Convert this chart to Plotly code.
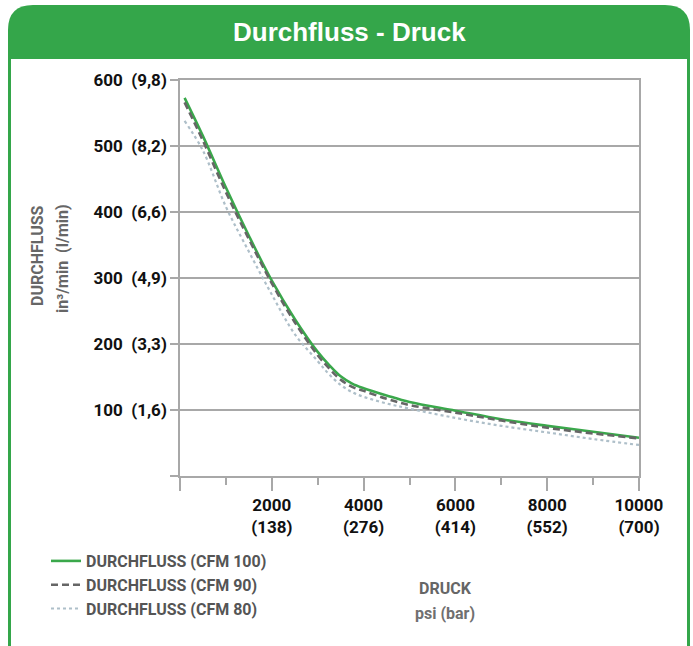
import plotly.graph_objects as go

# ---- data ----
psi = [100, 500, 1000, 1500, 2000, 2500, 3000, 3250, 3500, 3750, 4000, 4500, 5000, 6000, 7000, 8000, 9000, 10000]
cfm100 = [573, 515, 437, 364, 296, 238, 188, 168, 151, 140, 133, 122, 112, 99, 86, 76, 67, 58]
cfm90 = [566, 508, 430, 359, 292, 233, 183, 163, 146, 135, 129, 117, 107.5, 96, 84, 73, 64.5, 57]
cfm80 = [538, 493, 408, 340, 275, 215, 174, 154, 138, 127, 120, 110, 102, 88, 76, 66, 56, 47]

x_tickvals = [0, 2000, 4000, 6000, 8000, 10000]
x_ticktext = ["", "2000<br>(138)", "4000<br>(276)", "6000<br>(414)", "8000<br>(552)", "10000<br>(700)"]
y_tickvals = [0, 100, 200, 300, 400, 500, 600]
y_ticktext = ["", "100\u00a0\u00a0(1,6)", "200\u00a0\u00a0(3,3)", "300\u00a0\u00a0(4,9)",
              "400\u00a0\u00a0(6,6)", "500\u00a0\u00a0(8,2)", "600\u00a0\u00a0(9,8)"]
names = ["DURCHFLUSS (CFM 100)", "DURCHFLUSS (CFM 90)", "DURCHFLUSS (CFM 80)"]

W, H = 693, 646
ML, MR, MT, MB = 180, 54, 80, 170
PW, PH = W - ML - MR, H - MT - MB

def px(x):
    return (x - ML) / PW

def py(y):
    return (H - MB - y) / PH

FONT = "Roboto, Liberation Sans Narrow, DejaVu Sans Condensed, sans-serif"
GREEN = "#34a64a"
GRID = "#a8a8a8"

fig = go.Figure()
fig.add_trace(go.Scatter(x=psi, y=cfm100, name=names[0], mode="lines", legendgroup="a",
                         line=dict(color="#3aa84b", width=2.6, shape="spline", smoothing=1.0)))
fig.add_trace(go.Scatter(x=psi, y=cfm90, name=names[1], mode="lines", legendgroup="b",
                         line=dict(color="#666666", width=2.6, dash="7px,4px", shape="spline", smoothing=1.0)))
fig.add_trace(go.Scatter(x=psi, y=cfm80, name=names[2], mode="lines", legendgroup="c",
                         line=dict(color="#aebfc9", width=2.2, dash="dot", shape="spline", smoothing=1.0)))

# card shapes
r = 25
L, R, T, B = 8, 690, 5, 59
path = (f"M {px(L)},{py(B)} L {px(L)},{py(T + r)} "
        f"Q {px(L)},{py(T)} {px(L + r)},{py(T)} "
        f"L {px(R - r)},{py(T)} Q {px(R)},{py(T)} {px(R)},{py(T + r)} "
        f"L {px(R)},{py(B)} Z")
shapes = [
    dict(type="path", xref="paper", yref="paper", path=path, fillcolor=GREEN,
         line=dict(width=0), layer="below"),
    dict(type="rect", xref="paper", yref="paper", x0=px(L), x1=px(L + 3), y0=py(H + 5), y1=py(B),
         fillcolor=GREEN, line=dict(width=0), layer="below"),
    dict(type="rect", xref="paper", yref="paper", x0=px(R - 3), x1=px(R), y0=py(H + 5), y1=py(B),
         fillcolor=GREEN, line=dict(width=0), layer="below"),
]

annotations = [
    dict(text="Durchfluss - Druck", xref="paper", yref="paper", x=px(349), y=py(32),
         showarrow=False,
         font=dict(family="Liberation Sans, Arial, sans-serif", size=26, color="white", weight="bold"),
         xanchor="center", yanchor="middle"),
    dict(text="DURCHFLUSS", xref="paper", yref="paper", x=px(37), y=py(256),
         showarrow=False, textangle=-90, font=dict(family=FONT, size=16, color="#666666", weight="bold"),
         xanchor="center", yanchor="middle"),
    dict(text="in³/min\u00a0\u00a0(l/min)", xref="paper", yref="paper", x=px(62), y=py(259),
         showarrow=False, textangle=-90, font=dict(family=FONT, size=16, color="#666666", weight="bold"),
         xanchor="center", yanchor="middle"),
    dict(text="DRUCK", xref="paper", yref="paper", x=px(445), y=py(588),
         showarrow=False, font=dict(family=FONT, size=16, color="#666666", weight="bold"),
         xanchor="center", yanchor="middle"),
    dict(text="psi (bar)", xref="paper", yref="paper", x=px(445), y=py(613),
         showarrow=False, font=dict(family=FONT, size=16, color="#707070", weight="bold"),
         xanchor="center", yanchor="middle"),
]

fig.update_layout(
    width=W, height=H,
    margin=dict(l=ML, r=MR, t=MT, b=MB, pad=0, autoexpand=False),
    paper_bgcolor="white", plot_bgcolor="white",
    shapes=shapes, annotations=annotations,
    showlegend=True,
    legend=dict(xref="container", yref="container", x=46 / W, y=1 - 544 / H,
                xanchor="left", yanchor="top", bgcolor="rgba(0,0,0,0)",
                font=dict(family=FONT, size=16, color="#555555", weight="bold"),
                itemwidth=30, tracegroupgap=0),
    xaxis=dict(range=[0, 10000], tickvals=x_tickvals, ticktext=x_ticktext, tickangle=0,
               ticks="outside", ticklen=13, tickwidth=1.5, tickcolor=GRID,
               minor=dict(dtick=1000, tick0=0, ticks="outside", ticklen=7, tickwidth=1.5,
                          tickcolor=GRID, showgrid=False),
               showgrid=False, zeroline=False, showline=True, linecolor=GRID, linewidth=1.5,
               mirror=True,
               tickfont=dict(family=FONT, size=17, color="#111111", weight="bold")),
    yaxis=dict(range=[0, 600], tickvals=y_tickvals, ticktext=y_ticktext,
               ticks="outside", ticklen=8, tickwidth=1.5, tickcolor=GRID,
               showgrid=True, gridcolor=GRID, gridwidth=1.5, zeroline=False,
               showline=True, linecolor=GRID, linewidth=1.5, mirror=True,
               tickfont=dict(family=FONT, size=17, color="#111111", weight="bold")),
)

fig.write_html("out.html", config={"displayModeBar": False},
               post_script="document.body.style.margin='0';")
